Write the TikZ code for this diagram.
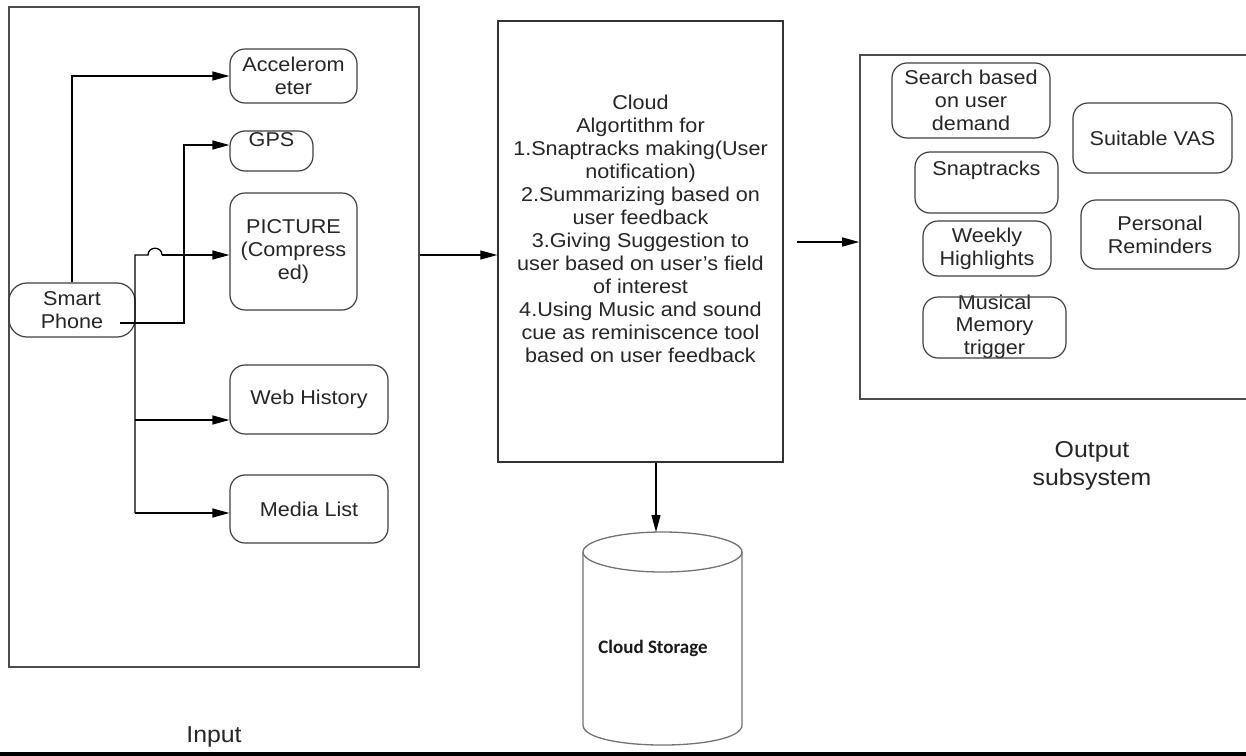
\documentclass[tikz,border=0pt]{standalone}
\usepackage{fontspec}
\setmainfont[FakeStretch=1.08]{Liberation Sans}
\newfontfamily\carlitofont{Carlito}
\usetikzlibrary{arrows.meta}
\begin{document}
\begin{tikzpicture}[x=1pt,y=-1pt,
  rbox/.style={draw=black!75, line width=1.2pt, rounded corners=15pt, inner sep=0pt, align=center, text=black!85, font=\fontsize{20}{23}\selectfont},
  bigbox/.style={draw=black!70, line width=1.6pt, inner sep=0pt},
  txt/.style={inner sep=0pt, align=center, text=black!85, font=\fontsize{20}{23}\selectfont},
  lbl/.style={inner sep=0pt, align=center, text=black!85, font=\fontsize{23}{28}\selectfont},
  arr/.style={draw=black, line width=1.3pt, -{Triangle[length=17pt,width=9pt]}},
  wire/.style={draw=black, line width=1.3pt}
]
\useasboundingbox (0,0) rectangle (1246,755);
\clip (0,0) rectangle (1246,755);
\fill[white] (0,0) rectangle (1246,755);

% Input subsystem
\node[bigbox, minimum width=410pt, minimum height=660pt] (inbox) at (214,337) {};
\node[rbox, minimum width=127pt, minimum height=54pt] (acc) at (293.5,76) {Accelerom\\eter};
\node[rbox, minimum width=83pt, minimum height=40pt] (gps) at (271.5,151) {};
\node[txt] (gpst) at (271.5,140) {GPS};
\node[rbox, minimum width=127pt, minimum height=117pt] (pic) at (293.5,251.5) {PICTURE\\(Compress\\ed)};
\node[rbox, rounded corners=18pt, minimum width=126pt, minimum height=54pt] (sp) at (72,310) {Smart\\Phone};
\node[rbox, minimum width=158pt, minimum height=69pt] (web) at (309,399.5) {Web History};
\node[rbox, minimum width=158pt, minimum height=68pt] (media) at (309,509) {Media List};
\node[lbl, anchor=base] (inlbl) at (214,742.5) {Input};

% Cloud
\node[bigbox, draw=black!80, line width=1.4pt, minimum width=285pt, minimum height=441pt] (cloud) at (640.5,241.5) {};
\node[txt] (cloudt) at (640.5,229) {Cloud\\Algortithm for\\1.Snaptracks making(User\\notification)\\2.Summarizing based on\\user feedback\\3.Giving Suggestion to\\user based on user's field\\of interest\\4.Using Music and sound\\cue as reminiscence tool\\based on user feedback};

% Cloud storage cylinder
\draw[black!55, line width=1.3pt] (662.5,552) ellipse [x radius=79.5pt, y radius=20pt];
\draw[black!55, line width=1.3pt] (583,552) -- (583,725) .. controls (583,751.7) and (742,751.7) .. (742,725) -- (742,552);
\node[inner sep=0pt, font=\carlitofont\bfseries\fontsize{19}{22}\selectfont, text=black!90] (cs) at (653,648) {Cloud Storage};
\coordinate (cst) at (656,532);

% Output subsystem
\node[bigbox, minimum width=400pt, minimum height=344pt] (outbox) at (1060,227) {};
\node[rbox, minimum width=158pt, minimum height=75pt] (search) at (971,100.5) {Search based\\on user\\demand};
\node[rbox, minimum width=159pt, minimum height=70pt] (vas) at (1152.5,138) {Suitable VAS};
\node[rbox, minimum width=143pt, minimum height=61pt] (snap) at (986.5,182.5) {};
\node[txt] (snapt) at (986.5,170) {Snaptracks};
\node[rbox, minimum width=158pt, minimum height=69pt] (pers) at (1160,234.5) {Personal\\Reminders};
\node[rbox, minimum width=128pt, minimum height=55pt] (weekly) at (987,248.5) {Weekly\\Highlights};
\node[txt, font=\fontsize{20}{22.5}\selectfont] (must) at (994.5,326.5) {Musical\\Memory\\trigger};
\node[rbox, minimum width=143pt, minimum height=61pt] (mus) at (994.5,327.5) {};
\node[lbl, anchor=base] (outlbl) at (1092,485) {Output\\subsystem};

% connectors
\coordinate (t1) at (135,255);
\coordinate (t2) at (135,513);
\coordinate (h1) at (148,255);
\coordinate (h2) at (162,255);
\coordinate (spg) at (120,323);
\coordinate (gj) at (184,323);
\coordinate (gi) at ([yshift=6pt]gps.west);
\coordinate (pi) at ([yshift=-3.5pt]pic.west);
\coordinate (wi) at ([yshift=-20.5pt]web.west);
\coordinate (mi) at ([yshift=-4pt]media.west);
\coordinate (ci) at ([yshift=-13.5pt]cloud.west);
\coordinate (co) at (797,242);

\draw[arr] (sp.north) |- (acc.west);
\draw[arr] (spg) -| (gj |- gi) -- (gi);
\draw[wire] (t2) -- (t1) -- (h1) .. controls (148,246) and (162,246) .. (h2);
\draw[arr] (h2) -- (pi);
\draw[arr] (wi -| t1) -- (wi);
\draw[arr] (mi -| t1) -- (mi);
\draw[arr] (ci -| inbox.east) -- (ci);
\draw[arr] (co) -- (co -| outbox.west);
\draw[arr] (cloud.south -| cst) -- (cst);

% bottom rule
\fill[black] (0,752) rectangle (1246,755.5);
\end{tikzpicture}
\end{document}
